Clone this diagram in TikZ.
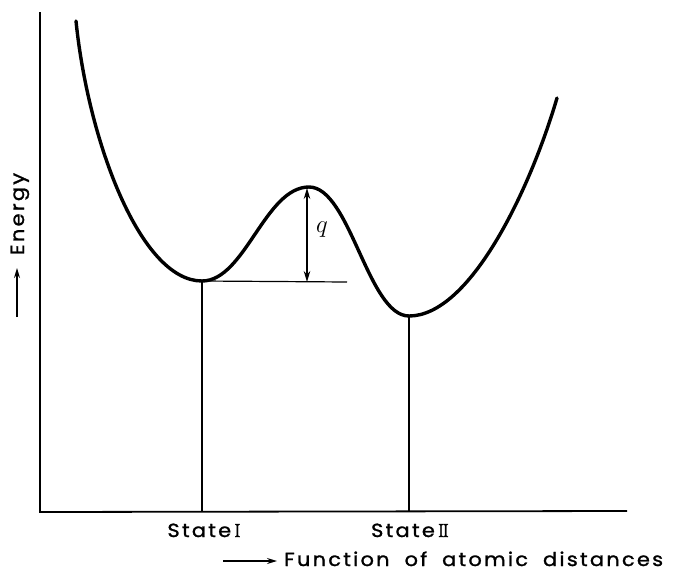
\documentclass[tikz,border=0pt]{standalone}
\usepackage{fontspec}
\setmainfont{Poppins}
\newfontfamily\lblfont[LetterSpace=12,FakeStretch=1.1,FakeBold=1.3]{Poppins}
\newfontfamily\romfont[FakeBold=1.3]{Latin Modern Roman}
\usetikzlibrary{arrows.meta}
\tikzset{
  curve/.style={line width=3.4pt, line cap=round, line join=round},
  axis/.style={line width=1.8pt},
  guide/.style={line width=1.2pt},
  tip/.style={-{Stealth[length=10pt,width=6pt]}, line width=1.3pt},
  bitip/.style={{Stealth[length=11pt,width=6.5pt]}-{Stealth[length=11pt,width=6.5pt]}, line width=1.3pt},
  lbl/.style={font=\fontsize{19}{21}\selectfont\lblfont, inner sep=0pt}
}
\newcommand\wsp{\hspace{15pt}}
\begin{document}
\begin{tikzpicture}[x=1pt,y=-1pt]
\useasboundingbox (0,0) rectangle (686,576);
% axes
\coordinate (Ytop) at (40,12);
\coordinate (O) at (40,512);
\coordinate (Xend) at (627,511);
\draw[axis] (Ytop) -- (O) -- (Xend);
% key points
\coordinate (c0) at (76,21);
\coordinate (m1) at (202,281);
\coordinate (mx) at (309,187);
\coordinate (m2) at (409,316);
\coordinate (c4) at (557,98);
\coordinate (m1b) at (202,512);
\coordinate (m2b) at (409,512);
\coordinate (hend) at (347,282);
\coordinate (qa) at (307,188);
\coordinate (qb) at (307,282);
% curve
\draw[curve] (c0) .. controls (88,140) and (140,281) .. (m1)
  .. controls (245,281) and (265,187) .. (mx)
  .. controls (350,187) and (368,316) .. (m2)
  .. controls (470,316) and (530,190) .. (c4);
% guides
\draw[guide] (m1) -- (m1b);
\draw[guide] (m2) -- (m2b);
\draw[guide] (m1) -- (hend);
\draw[bitip] (qa) -- (qb);
\node[inner sep=0pt, font=\fontsize{32}{34}\selectfont] (q) at (322,230) {$q$};
% labels
\node[lbl, anchor=base] (s1) at (204,537) {State\,{\romfont I}};
\node[lbl, anchor=base] (s2) at (410,537) {State\,{\romfont I\kern-1.6pt I}};
\coordinate (xa) at (223,561);
\coordinate (xb) at (277,561);
\draw[tip] (xa) -- (xb);
\node[lbl, anchor=base west] (xl) at (284,566) {Function\wsp of\wsp atomic\wsp distances};
\coordinate (ya) at (17,317);
\coordinate (yb) at (17,268);
\draw[tip] (ya) -- (yb);
\node[lbl, anchor=base, rotate=90] (yl) at (24,214) {Energy};
\end{tikzpicture}
\end{document}
